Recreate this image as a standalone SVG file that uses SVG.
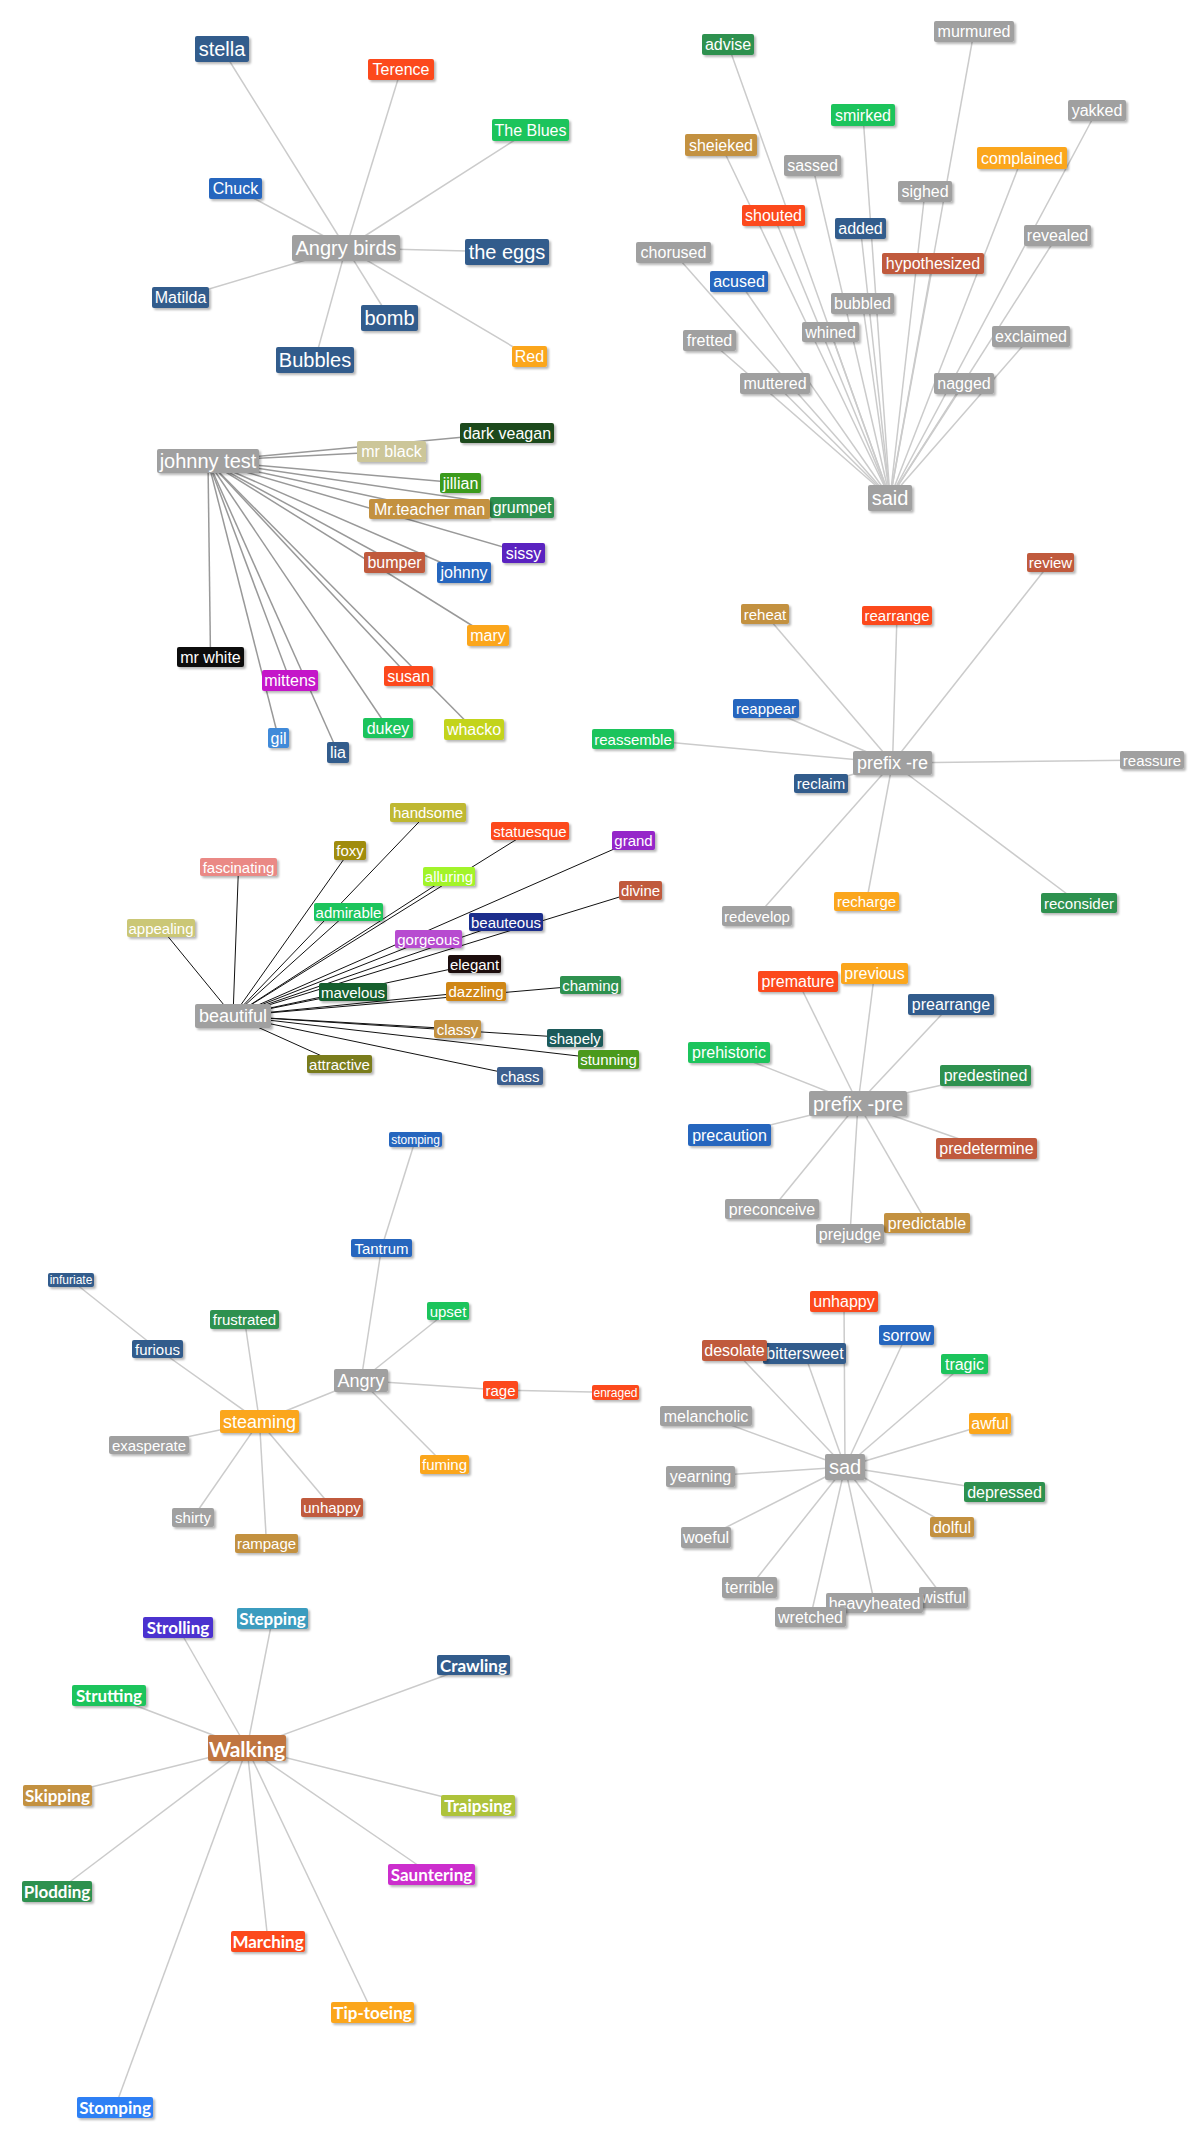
<svg xmlns="http://www.w3.org/2000/svg" width="1199" height="2139" viewBox="0 0 1199 2139">
<defs>
<filter id="sh" x="-10%" y="-20%" width="130%" height="170%"><feDropShadow dx="2" dy="2" stdDeviation="1.2" flood-color="#000" flood-opacity="0.28"/></filter>
<style>
.n rect{filter:url(#sh)}
.n text{fill:#fff;font-family:"Liberation Sans",Arial,sans-serif;text-anchor:middle;dominant-baseline:central}
.w text{font-family:Lato,"Open Sans",sans-serif;font-weight:700}
.s12{font-size:12px}.s15{font-size:15px}.s16{font-size:16px}.s17{font-size:17px}.s18{font-size:18px}.s20{font-size:20px}.s21{font-size:21px}
.g{fill:#a0a0a0}.nv{fill:#335c8c}.bl{fill:#2666be}.ro{fill:#fc4a1a}.or{fill:#fba61e}.gr{fill:#1ec45c}.dg{fill:#2e9150}.tn{fill:#c3913f}.ru{fill:#c05a3c}
.el line{stroke:#cbcbcb;stroke-width:1.5}
.ej line{stroke:#999;stroke-width:1.5}
.eb line{stroke:#111;stroke-width:1}
</style>
</defs>
<rect width="1199" height="2139" fill="#fff"/>
<g id="connectors">
<g class="el">
<line x1="346" y1="248" x2="222" y2="49"/><line x1="346" y1="248" x2="401" y2="69.5"/><line x1="346" y1="248" x2="530.5" y2="130"/><line x1="346" y1="248" x2="235.5" y2="188.5"/><line x1="346" y1="248" x2="507" y2="252"/><line x1="346" y1="248" x2="180.5" y2="297.5"/><line x1="346" y1="248" x2="389.5" y2="318"/><line x1="346" y1="248" x2="315" y2="360"/><line x1="346" y1="248" x2="529.5" y2="356.5"/>
<line x1="890" y1="498" x2="728" y2="44.5"/><line x1="890" y1="498" x2="974" y2="31.5"/><line x1="890" y1="498" x2="863" y2="115"/><line x1="890" y1="498" x2="1097" y2="110.5"/><line x1="890" y1="498" x2="721" y2="145"/><line x1="890" y1="498" x2="812.5" y2="165.5"/><line x1="890" y1="498" x2="1022" y2="158"/><line x1="890" y1="498" x2="925" y2="191.5"/><line x1="890" y1="498" x2="773.5" y2="215.5"/><line x1="890" y1="498" x2="860.5" y2="228.5"/><line x1="890" y1="498" x2="1057.5" y2="235.5"/><line x1="890" y1="498" x2="673.5" y2="252.5"/><line x1="890" y1="498" x2="933" y2="263.5"/><line x1="890" y1="498" x2="739" y2="281.5"/><line x1="890" y1="498" x2="862.5" y2="303.5"/><line x1="890" y1="498" x2="830.5" y2="332"/><line x1="890" y1="498" x2="709.5" y2="340.5"/><line x1="890" y1="498" x2="1031" y2="336.5"/><line x1="890" y1="498" x2="775" y2="383.5"/><line x1="890" y1="498" x2="964" y2="383.5"/>
<line x1="892.5" y1="763" x2="1050.5" y2="562.5"/><line x1="892.5" y1="763" x2="765" y2="614"/><line x1="892.5" y1="763" x2="897" y2="615.5"/><line x1="892.5" y1="763" x2="766" y2="708.5"/><line x1="892.5" y1="763" x2="633" y2="739"/><line x1="892.5" y1="763" x2="1152" y2="760"/><line x1="892.5" y1="763" x2="821" y2="783.5"/><line x1="892.5" y1="763" x2="757" y2="916"/><line x1="892.5" y1="763" x2="866.5" y2="901.5"/><line x1="892.5" y1="763" x2="1079" y2="903"/>
<line x1="858" y1="1103.5" x2="798" y2="981.5"/><line x1="858" y1="1103.5" x2="874.5" y2="973.5"/><line x1="858" y1="1103.5" x2="951" y2="1004.5"/><line x1="858" y1="1103.5" x2="729" y2="1052.5"/><line x1="858" y1="1103.5" x2="985.5" y2="1075.5"/><line x1="858" y1="1103.5" x2="729.5" y2="1135"/><line x1="858" y1="1103.5" x2="986.5" y2="1148.5"/><line x1="858" y1="1103.5" x2="772" y2="1209"/><line x1="858" y1="1103.5" x2="850" y2="1234"/><line x1="858" y1="1103.5" x2="927" y2="1223"/>
<line x1="415.5" y1="1139.5" x2="381.5" y2="1248"/><line x1="361" y1="1380.5" x2="381.5" y2="1248"/><line x1="361" y1="1380.5" x2="448" y2="1311"/><line x1="361" y1="1380.5" x2="500.5" y2="1390"/><line x1="500.5" y1="1390" x2="615.5" y2="1392.5"/><line x1="361" y1="1380.5" x2="444.5" y2="1464.5"/><line x1="361" y1="1380.5" x2="259.5" y2="1421.5"/><line x1="259.5" y1="1421.5" x2="244.5" y2="1319.5"/><line x1="259.5" y1="1421.5" x2="157.5" y2="1349"/><line x1="157.5" y1="1349" x2="71" y2="1280"/><line x1="259.5" y1="1421.5" x2="149" y2="1445"/><line x1="259.5" y1="1421.5" x2="193" y2="1517.5"/><line x1="259.5" y1="1421.5" x2="266.5" y2="1543.5"/><line x1="259.5" y1="1421.5" x2="332" y2="1507.5"/>
<line x1="845" y1="1467" x2="844" y2="1301.5"/><line x1="845" y1="1467" x2="906.5" y2="1335"/><line x1="845" y1="1467" x2="734.5" y2="1350.5"/><line x1="845" y1="1467" x2="804.5" y2="1353.5"/><line x1="845" y1="1467" x2="964.5" y2="1364"/><line x1="845" y1="1467" x2="706" y2="1416"/><line x1="845" y1="1467" x2="990" y2="1423.5"/><line x1="845" y1="1467" x2="700.5" y2="1476.5"/><line x1="845" y1="1467" x2="1004.5" y2="1492"/><line x1="845" y1="1467" x2="952" y2="1527"/><line x1="845" y1="1467" x2="706" y2="1537.5"/><line x1="845" y1="1467" x2="749.5" y2="1587.5"/><line x1="845" y1="1467" x2="943.5" y2="1597.5"/><line x1="845" y1="1467" x2="874.5" y2="1603"/><line x1="845" y1="1467" x2="810.5" y2="1617"/>
<line x1="247" y1="1748" x2="178" y2="1627.5"/><line x1="247" y1="1748" x2="272.5" y2="1618.5"/><line x1="247" y1="1748" x2="473.5" y2="1665"/><line x1="247" y1="1748" x2="109" y2="1695.5"/><line x1="247" y1="1748" x2="57.5" y2="1795.5"/><line x1="247" y1="1748" x2="478" y2="1805.5"/><line x1="247" y1="1748" x2="431.5" y2="1874.5"/><line x1="247" y1="1748" x2="57" y2="1891.5"/><line x1="247" y1="1748" x2="268" y2="1941.5"/><line x1="247" y1="1748" x2="372.5" y2="2012.5"/><line x1="247" y1="1748" x2="115" y2="2107.5"/>
</g>
<g class="ej">
<line x1="208" y1="461" x2="507" y2="433"/><line x1="208" y1="461" x2="391.5" y2="451.5"/><line x1="208" y1="461" x2="460.5" y2="483"/><line x1="208" y1="461" x2="429.5" y2="509"/><line x1="208" y1="461" x2="522" y2="507.5"/><line x1="208" y1="461" x2="523.5" y2="553"/><line x1="208" y1="461" x2="394.5" y2="562.5"/><line x1="208" y1="461" x2="464" y2="572.5"/><line x1="208" y1="461" x2="488" y2="635.5"/><line x1="208" y1="461" x2="210.5" y2="657"/><line x1="208" y1="461" x2="290" y2="680.5"/><line x1="208" y1="461" x2="408.5" y2="676"/><line x1="208" y1="461" x2="278.5" y2="738"/><line x1="208" y1="461" x2="338" y2="752.5"/><line x1="208" y1="461" x2="388" y2="728"/><line x1="208" y1="461" x2="474" y2="729.5"/>
</g>
<g class="eb">
<line x1="233" y1="1016" x2="428" y2="812.5"/><line x1="233" y1="1016" x2="530" y2="831"/><line x1="233" y1="1016" x2="633.5" y2="840.5"/><line x1="233" y1="1016" x2="350" y2="850.5"/><line x1="233" y1="1016" x2="238.5" y2="867"/><line x1="233" y1="1016" x2="449" y2="876.5"/><line x1="233" y1="1016" x2="640.5" y2="890.5"/><line x1="233" y1="1016" x2="348.5" y2="912"/><line x1="233" y1="1016" x2="161" y2="928"/><line x1="233" y1="1016" x2="506" y2="922"/><line x1="233" y1="1016" x2="428.5" y2="939"/><line x1="233" y1="1016" x2="474.5" y2="964"/><line x1="233" y1="1016" x2="353" y2="992"/><line x1="233" y1="1016" x2="476" y2="991.5"/><line x1="233" y1="1016" x2="590.5" y2="985"/><line x1="233" y1="1016" x2="457.5" y2="1029"/><line x1="233" y1="1016" x2="575" y2="1038"/><line x1="233" y1="1016" x2="608.5" y2="1059.5"/><line x1="233" y1="1016" x2="339.5" y2="1064"/><line x1="233" y1="1016" x2="520" y2="1076"/>
</g>
</g>

<!-- Angry birds -->
<g id="n-stella" class="n s20"><rect class="nv" x="195" y="36" width="54" height="26" rx="2"/><text x="222" y="49">stella</text></g>
<g id="n-terence" class="n s16"><rect class="ro" x="368" y="59" width="66" height="21" rx="2"/><text x="401" y="69.5">Terence</text></g>
<g id="n-theblues" class="n s16"><rect class="gr" x="492" y="119" width="77" height="22" rx="2"/><text x="530.5" y="130">The Blues</text></g>
<g id="n-chuck" class="n s16"><rect class="bl" x="209" y="178" width="53" height="21" rx="2"/><text x="235.5" y="188.5">Chuck</text></g>
<g id="n-angrybirds" class="n s20"><rect class="g" x="292" y="235" width="108" height="26" rx="2"/><text x="346" y="248">Angry birds</text></g>
<g id="n-theeggs" class="n s20"><rect class="nv" x="465" y="239" width="84" height="26" rx="2"/><text x="507" y="252">the eggs</text></g>
<g id="n-matilda" class="n s16"><rect class="nv" x="152" y="287" width="57" height="21" rx="2"/><text x="180.5" y="297.5">Matilda</text></g>
<g id="n-bomb" class="n s20"><rect class="nv" x="361" y="305" width="57" height="26" rx="2"/><text x="389.5" y="318">bomb</text></g>
<g id="n-bubbles" class="n s20"><rect class="nv" x="276" y="347" width="78" height="26" rx="2"/><text x="315" y="360">Bubbles</text></g>
<g id="n-red" class="n s16"><rect class="or" x="512" y="346" width="35" height="21" rx="2"/><text x="529.5" y="356.5">Red</text></g>

<!-- said -->
<g id="n-advise" class="n s16"><rect class="dg" x="702" y="34" width="52" height="21" rx="2"/><text x="728" y="44.5">advise</text></g>
<g id="n-murmured" class="n s16"><rect class="g" x="934" y="21" width="80" height="21" rx="2"/><text x="974" y="31.5">murmured</text></g>
<g id="n-smirked" class="n s16"><rect class="gr" x="831" y="104" width="64" height="22" rx="2"/><text x="863" y="115">smirked</text></g>
<g id="n-yakked" class="n s16"><rect class="g" x="1068" y="100" width="58" height="21" rx="2"/><text x="1097" y="110.5">yakked</text></g>
<g id="n-sheieked" class="n s16"><rect class="tn" x="685" y="134" width="72" height="22" rx="2"/><text x="721" y="145">sheieked</text></g>
<g id="n-sassed" class="n s16"><rect class="g" x="784" y="155" width="57" height="21" rx="2"/><text x="812.5" y="165.5">sassed</text></g>
<g id="n-complained" class="n s16"><rect class="or" x="977" y="147" width="90" height="22" rx="2"/><text x="1022" y="158">complained</text></g>
<g id="n-sighed" class="n s16"><rect class="g" x="898" y="181" width="54" height="21" rx="2"/><text x="925" y="191.5">sighed</text></g>
<g id="n-shouted" class="n s16"><rect class="ro" x="742" y="205" width="63" height="21" rx="2"/><text x="773.5" y="215.5">shouted</text></g>
<g id="n-added" class="n s16"><rect class="nv" x="835" y="218" width="51" height="21" rx="2"/><text x="860.5" y="228.5">added</text></g>
<g id="n-revealed" class="n s16"><rect class="g" x="1024" y="225" width="67" height="21" rx="2"/><text x="1057.5" y="235.5">revealed</text></g>
<g id="n-chorused" class="n s16"><rect class="g" x="636" y="242" width="75" height="21" rx="2"/><text x="673.5" y="252.5">chorused</text></g>
<g id="n-hypothesized" class="n s16"><rect class="ru" x="882" y="253" width="102" height="21" rx="2"/><text x="933" y="263.5">hypothesized</text></g>
<g id="n-acused" class="n s16"><rect class="bl" x="710" y="271" width="58" height="21" rx="2"/><text x="739" y="281.5">acused</text></g>
<g id="n-bubbled" class="n s16"><rect class="g" x="831" y="293" width="63" height="21" rx="2"/><text x="862.5" y="303.5">bubbled</text></g>
<g id="n-whined" class="n s16"><rect class="g" x="802" y="322" width="57" height="20" rx="2"/><text x="830.5" y="332">whined</text></g>
<g id="n-fretted" class="n s16"><rect class="g" x="683" y="330" width="53" height="21" rx="2"/><text x="709.5" y="340.5">fretted</text></g>
<g id="n-exclaimed" class="n s16"><rect class="g" x="992" y="326" width="78" height="21" rx="2"/><text x="1031" y="336.5">exclaimed</text></g>
<g id="n-muttered" class="n s16"><rect class="g" x="740" y="373" width="70" height="21" rx="2"/><text x="775" y="383.5">muttered</text></g>
<g id="n-nagged" class="n s16"><rect class="g" x="934" y="373" width="60" height="21" rx="2"/><text x="964" y="383.5">nagged</text></g>
<g id="n-said" class="n s20"><rect class="g" x="868" y="485" width="44" height="26" rx="2"/><text x="890" y="498">said</text></g>

<!-- johnny test -->
<g id="n-johnnytest" class="n s20"><rect class="g" x="157" y="449" width="102" height="24" rx="2"/><text x="208" y="461">johnny test</text></g>
<g id="n-darkveagan" class="n s16"><rect fill="#1d4a1c" x="460" y="423" width="94" height="20" rx="2"/><text x="507" y="433">dark veagan</text></g>
<g id="n-mrblack" class="n s16"><rect fill="#ccc699" x="357" y="441" width="69" height="21" rx="2"/><text x="391.5" y="451.5">mr black</text></g>
<g id="n-jillian" class="n s16"><rect fill="#3a9a1e" x="440" y="473" width="41" height="20" rx="2"/><text x="460.5" y="483">jillian</text></g>
<g id="n-grumpet" class="n s16"><rect class="dg" x="490" y="497" width="64" height="21" rx="2"/><text x="522" y="507.5">grumpet</text></g>
<g id="n-mrteacherman" class="n s16"><rect class="tn" x="369" y="499" width="121" height="20" rx="2"/><text x="429.5" y="509">Mr.teacher man</text></g>
<g id="n-sissy" class="n s16"><rect fill="#5a21c0" x="502" y="543" width="43" height="20" rx="2"/><text x="523.5" y="553">sissy</text></g>
<g id="n-bumper" class="n s16"><rect class="ru" x="364" y="552" width="61" height="21" rx="2"/><text x="394.5" y="562.5">bumper</text></g>
<g id="n-johnny" class="n s16"><rect class="bl" x="437" y="562" width="54" height="21" rx="2"/><text x="464" y="572.5">johnny</text></g>
<g id="n-mary" class="n s16"><rect class="or" x="467" y="625" width="42" height="21" rx="2"/><text x="488" y="635.5">mary</text></g>
<g id="n-mrwhite" class="n s16"><rect fill="#0a0a0a" x="177" y="647" width="67" height="20" rx="2"/><text x="210.5" y="657">mr white</text></g>
<g id="n-mittens" class="n s16"><rect fill="#c418c9" x="262" y="670" width="56" height="21" rx="2"/><text x="290" y="680.5">mittens</text></g>
<g id="n-susan" class="n s16"><rect class="ro" x="384" y="666" width="49" height="20" rx="2"/><text x="408.5" y="676">susan</text></g>
<g id="n-gil" class="n s16"><rect fill="#3f8ad9" x="268" y="728" width="21" height="20" rx="2"/><text x="278.5" y="738">gil</text></g>
<g id="n-lia" class="n s16"><rect class="nv" x="327" y="742" width="22" height="21" rx="2"/><text x="338" y="752.5">lia</text></g>
<g id="n-dukey" class="n s16"><rect class="gr" x="363" y="718" width="50" height="20" rx="2"/><text x="388" y="728">dukey</text></g>
<g id="n-whacko" class="n s16"><rect fill="#c3d41f" x="444" y="719" width="60" height="21" rx="2"/><text x="474" y="729.5">whacko</text></g>

<!-- prefix -re -->
<g id="n-review" class="n s15"><rect class="ru" x="1027" y="553" width="47" height="19" rx="2"/><text x="1050.5" y="562.5">review</text></g>
<g id="n-reheat" class="n s15"><rect class="tn" x="741" y="604" width="48" height="20" rx="2"/><text x="765" y="614">reheat</text></g>
<g id="n-rearrange" class="n s15"><rect class="ro" x="862" y="606" width="70" height="19" rx="2"/><text x="897" y="615.5">rearrange</text></g>
<g id="n-reappear" class="n s15"><rect class="bl" x="733" y="699" width="66" height="19" rx="2"/><text x="766" y="708.5">reappear</text></g>
<g id="n-reassemble" class="n s15"><rect class="gr" x="592" y="729" width="82" height="20" rx="2"/><text x="633" y="739">reassemble</text></g>
<g id="n-prefixre" class="n s18"><rect class="g" x="853" y="751" width="79" height="24" rx="2"/><text x="892.5" y="763">prefix -re</text></g>
<g id="n-reassure" class="n s15"><rect class="g" x="1120" y="751" width="64" height="18" rx="2"/><text x="1152" y="760">reassure</text></g>
<g id="n-reclaim" class="n s15"><rect class="nv" x="794" y="774" width="54" height="19" rx="2"/><text x="821" y="783.5">reclaim</text></g>
<g id="n-redevelop" class="n s15"><rect class="g" x="722" y="906" width="70" height="20" rx="2"/><text x="757" y="916">redevelop</text></g>
<g id="n-recharge" class="n s15"><rect class="or" x="834" y="892" width="65" height="19" rx="2"/><text x="866.5" y="901.5">recharge</text></g>
<g id="n-reconsider" class="n s15"><rect class="dg" x="1041" y="893" width="76" height="20" rx="2"/><text x="1079" y="903">reconsider</text></g>

<!-- beautiful -->
<g id="n-handsome" class="n s15"><rect fill="#bfb832" x="390" y="803" width="76" height="19" rx="2"/><text x="428" y="812.5">handsome</text></g>
<g id="n-statuesque" class="n s15"><rect class="ro" x="491" y="822" width="78" height="18" rx="2"/><text x="530" y="831">statuesque</text></g>
<g id="n-grand" class="n s15"><rect fill="#9527c9" x="612" y="831" width="43" height="19" rx="2"/><text x="633.5" y="840.5">grand</text></g>
<g id="n-foxy" class="n s15"><rect fill="#a08c0c" x="334" y="841" width="32" height="19" rx="2"/><text x="350" y="850.5">foxy</text></g>
<g id="n-fascinating" class="n s15"><rect fill="#ea8985" x="200" y="858" width="77" height="18" rx="2"/><text x="238.5" y="867">fascinating</text></g>
<g id="n-alluring" class="n s15"><rect fill="#a2f42b" x="423" y="867" width="52" height="19" rx="2"/><text x="449" y="876.5">alluring</text></g>
<g id="n-divine" class="n s15"><rect class="ru" x="619" y="881" width="43" height="19" rx="2"/><text x="640.5" y="890.5">divine</text></g>
<g id="n-admirable" class="n s15"><rect class="gr" x="314" y="903" width="69" height="18" rx="2"/><text x="348.5" y="912">admirable</text></g>
<g id="n-appealing" class="n s15"><rect fill="#cbc776" x="127" y="919" width="68" height="18" rx="2"/><text x="161" y="928">appealing</text></g>
<g id="n-beauteous" class="n s15"><rect fill="#1a2e8c" x="469" y="913" width="74" height="18" rx="2"/><text x="506" y="922">beauteous</text></g>
<g id="n-gorgeous" class="n s15"><rect fill="#b74bd0" x="395" y="930" width="67" height="18" rx="2"/><text x="428.5" y="939">gorgeous</text></g>
<g id="n-elegant" class="n s15"><rect fill="#1a0c07" x="448" y="955" width="53" height="18" rx="2"/><text x="474.5" y="964">elegant</text></g>
<g id="n-mavelous" class="n s15"><rect fill="#125f2d" x="319" y="983" width="68" height="18" rx="2"/><text x="353" y="992">mavelous</text></g>
<g id="n-dazzling" class="n s15"><rect fill="#cf8613" x="446" y="982" width="60" height="19" rx="2"/><text x="476" y="991.5">dazzling</text></g>
<g id="n-chaming" class="n s15"><rect class="dg" x="560" y="976" width="61" height="18" rx="2"/><text x="590.5" y="985">chaming</text></g>
<g id="n-beautiful" class="n s18"><rect class="g" x="195" y="1004" width="76" height="24" rx="2"/><text x="233" y="1016">beautiful</text></g>
<g id="n-classy" class="n s15"><rect class="tn" x="434" y="1020" width="47" height="18" rx="2"/><text x="457.5" y="1029">classy</text></g>
<g id="n-shapely" class="n s15"><rect fill="#1a5a5a" x="547" y="1029" width="56" height="18" rx="2"/><text x="575" y="1038">shapely</text></g>
<g id="n-stunning" class="n s15"><rect fill="#4c9a1e" x="578" y="1050" width="61" height="19" rx="2"/><text x="608.5" y="1059.5">stunning</text></g>
<g id="n-attractive" class="n s15"><rect fill="#7a7c1b" x="307" y="1055" width="65" height="18" rx="2"/><text x="339.5" y="1064">attractive</text></g>
<g id="n-chass" class="n s15"><rect fill="#3c5f8e" x="497" y="1067" width="46" height="18" rx="2"/><text x="520" y="1076">chass</text></g>

<!-- prefix -pre -->
<g id="n-premature" class="n s16"><rect class="ro" x="758" y="971" width="80" height="21" rx="2"/><text x="798" y="981.5">premature</text></g>
<g id="n-previous" class="n s16"><rect class="or" x="841" y="963" width="67" height="21" rx="2"/><text x="874.5" y="973.5">previous</text></g>
<g id="n-prearrange" class="n s16"><rect class="nv" x="908" y="994" width="86" height="21" rx="2"/><text x="951" y="1004.5">prearrange</text></g>
<g id="n-prehistoric" class="n s16"><rect class="gr" x="688" y="1042" width="82" height="21" rx="2"/><text x="729" y="1052.5">prehistoric</text></g>
<g id="n-predestined" class="n s16"><rect class="dg" x="940" y="1065" width="91" height="21" rx="2"/><text x="985.5" y="1075.5">predestined</text></g>
<g id="n-prefixpre" class="n s20"><rect class="g" x="809" y="1091" width="98" height="25" rx="2"/><text x="858" y="1103.5">prefix -pre</text></g>
<g id="n-precaution" class="n s16"><rect class="bl" x="688" y="1124" width="83" height="22" rx="2"/><text x="729.5" y="1135">precaution</text></g>
<g id="n-predetermine" class="n s16"><rect class="ru" x="936" y="1138" width="101" height="21" rx="2"/><text x="986.5" y="1148.5">predetermine</text></g>
<g id="n-preconceive" class="n s16"><rect class="g" x="725" y="1199" width="94" height="20" rx="2"/><text x="772" y="1209">preconceive</text></g>
<g id="n-predictable" class="n s16"><rect class="tn" x="884" y="1213" width="86" height="20" rx="2"/><text x="927" y="1223">predictable</text></g>
<g id="n-prejudge" class="n s16"><rect class="g" x="816" y="1224" width="68" height="20" rx="2"/><text x="850" y="1234">prejudge</text></g>

<!-- Angry -->
<g id="n-stomping-small" class="n s12"><rect class="bl" x="389" y="1132" width="53" height="15" rx="2"/><text x="415.5" y="1139.5">stomping</text></g>
<g id="n-tantrum" class="n s15"><rect class="bl" x="351" y="1239" width="61" height="18" rx="2"/><text x="381.5" y="1248">Tantrum</text></g>
<g id="n-infuriate" class="n s12"><rect class="nv" x="48" y="1273" width="46" height="14" rx="2"/><text x="71" y="1280">infuriate</text></g>
<g id="n-upset" class="n s15"><rect class="gr" x="427" y="1302" width="42" height="18" rx="2"/><text x="448" y="1311">upset</text></g>
<g id="n-frustrated" class="n s15"><rect class="dg" x="210" y="1310" width="69" height="19" rx="2"/><text x="244.5" y="1319.5">frustrated</text></g>
<g id="n-furious" class="n s15"><rect class="nv" x="132" y="1340" width="51" height="18" rx="2"/><text x="157.5" y="1349">furious</text></g>
<g id="n-angry" class="n s18"><rect class="g" x="334" y="1369" width="54" height="23" rx="2"/><text x="361" y="1380.5">Angry</text></g>
<g id="n-rage" class="n s15"><rect class="ro" x="483" y="1381" width="35" height="18" rx="2"/><text x="500.5" y="1390">rage</text></g>
<g id="n-enraged" class="n s12"><rect class="ro" x="592" y="1385" width="47" height="15" rx="2"/><text x="615.5" y="1392.5">enraged</text></g>
<g id="n-steaming" class="n s18"><rect class="or" x="220" y="1410" width="79" height="23" rx="2"/><text x="259.5" y="1421.5">steaming</text></g>
<g id="n-exasperate" class="n s15"><rect class="g" x="109" y="1436" width="80" height="18" rx="2"/><text x="149" y="1445">exasperate</text></g>
<g id="n-fuming" class="n s15"><rect class="or" x="420" y="1455" width="49" height="19" rx="2"/><text x="444.5" y="1464.5">fuming</text></g>
<g id="n-unhappy-angry" class="n s15"><rect class="ru" x="301" y="1498" width="62" height="19" rx="2"/><text x="332" y="1507.5">unhappy</text></g>
<g id="n-shirty" class="n s15"><rect class="g" x="172" y="1508" width="42" height="19" rx="2"/><text x="193" y="1517.5">shirty</text></g>
<g id="n-rampage" class="n s15"><rect class="tn" x="235" y="1534" width="63" height="19" rx="2"/><text x="266.5" y="1543.5">rampage</text></g>

<!-- sad -->
<g id="n-unhappy-sad" class="n s16"><rect class="ro" x="810" y="1291" width="68" height="21" rx="2"/><text x="844" y="1301.5">unhappy</text></g>
<g id="n-sorrow" class="n s16"><rect class="bl" x="879" y="1325" width="55" height="20" rx="2"/><text x="906.5" y="1335">sorrow</text></g>
<g id="n-bittersweet" class="n s16"><rect class="nv" x="763" y="1343" width="83" height="21" rx="2"/><text x="805" y="1353.5">bittersweet</text></g>
<g id="n-desolate" class="n s16"><rect class="ru" x="702" y="1340" width="65" height="21" rx="2"/><text x="734.5" y="1350.5">desolate</text></g>
<g id="n-tragic" class="n s16"><rect class="gr" x="941" y="1354" width="47" height="20" rx="2"/><text x="964.5" y="1364">tragic</text></g>
<g id="n-melancholic" class="n s16"><rect class="g" x="660" y="1406" width="92" height="20" rx="2"/><text x="706" y="1416">melancholic</text></g>
<g id="n-awful" class="n s16"><rect class="or" x="969" y="1413" width="42" height="21" rx="2"/><text x="990" y="1423.5">awful</text></g>
<g id="n-sad" class="n s20"><rect class="g" x="825" y="1454" width="40" height="26" rx="2"/><text x="845" y="1467">sad</text></g>
<g id="n-yearning" class="n s16"><rect class="g" x="666" y="1466" width="69" height="21" rx="2"/><text x="700.5" y="1476.5">yearning</text></g>
<g id="n-depressed" class="n s16"><rect class="dg" x="964" y="1482" width="81" height="20" rx="2"/><text x="1004.5" y="1492">depressed</text></g>
<g id="n-dolful" class="n s16"><rect class="tn" x="930" y="1517" width="44" height="20" rx="2"/><text x="952" y="1527">dolful</text></g>
<g id="n-woeful" class="n s16"><rect class="g" x="681" y="1527" width="50" height="21" rx="2"/><text x="706" y="1537.5">woeful</text></g>
<g id="n-terrible" class="n s16"><rect class="g" x="722" y="1577" width="55" height="21" rx="2"/><text x="749.5" y="1587.5">terrible</text></g>
<g id="n-wistful" class="n s16"><rect class="g" x="919" y="1587" width="49" height="21" rx="2"/><text x="943.5" y="1597.5">wistful</text></g>
<g id="n-heavyheated" class="n s16"><rect class="g" x="826" y="1593" width="97" height="20" rx="2"/><text x="874.5" y="1603">heavyheated</text></g>
<g id="n-wretched" class="n s16"><rect class="g" x="775" y="1607" width="71" height="20" rx="2"/><text x="810.5" y="1617">wretched</text></g>

<!-- Walking -->
<g id="n-strolling" class="n w s17"><rect fill="#4b31cf" x="143" y="1617" width="70" height="21" rx="2"/><text x="178" y="1627.5">Strolling</text></g>
<g id="n-stepping" class="n w s17"><rect fill="#3a9cbf" x="237" y="1608" width="71" height="21" rx="2"/><text x="272.5" y="1618.5">Stepping</text></g>
<g id="n-crawling" class="n w s17"><rect class="nv" x="437" y="1655" width="73" height="20" rx="2"/><text x="473.5" y="1665">Crawling</text></g>
<g id="n-strutting" class="n w s17"><rect class="gr" x="72" y="1685" width="74" height="21" rx="2"/><text x="109" y="1695.5">Strutting</text></g>
<g id="n-walking" class="n w s21"><rect fill="#c0743f" x="208" y="1735" width="78" height="26" rx="2"/><text x="247" y="1748">Walking</text></g>
<g id="n-skipping" class="n w s17"><rect class="tn" x="23" y="1785" width="69" height="21" rx="2"/><text x="57.5" y="1795.5">Skipping</text></g>
<g id="n-traipsing" class="n w s17"><rect fill="#aec33b" x="441" y="1795" width="74" height="21" rx="2"/><text x="478" y="1805.5">Traipsing</text></g>
<g id="n-sauntering" class="n w s17"><rect fill="#cc2fcd" x="388" y="1864" width="87" height="21" rx="2"/><text x="431.5" y="1874.5">Sauntering</text></g>
<g id="n-plodding" class="n w s17"><rect class="dg" x="22" y="1881" width="70" height="21" rx="2"/><text x="57" y="1891.5">Plodding</text></g>
<g id="n-marching" class="n w s17"><rect class="ro" x="231" y="1931" width="74" height="21" rx="2"/><text x="268" y="1941.5">Marching</text></g>
<g id="n-tiptoeing" class="n w s17"><rect class="or" x="331" y="2002" width="83" height="21" rx="2"/><text x="372.5" y="2012.5">Tip-toeing</text></g>
<g id="n-stomping" class="n w s17"><rect fill="#2f80f5" x="77" y="2097" width="76" height="21" rx="2"/><text x="115" y="2107.5">Stomping</text></g>
</svg>
